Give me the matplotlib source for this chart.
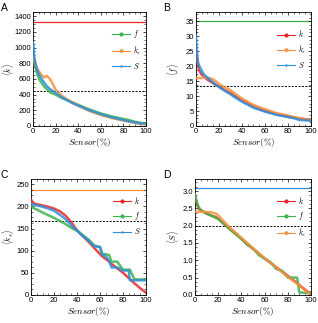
import numpy as np
import matplotlib.pyplot as plt
from matplotlib.ticker import AutoMinorLocator

# colours used in the figure
RED = "#e8262a"
GREEN = "#3cb44b"
ORANGE = "#f7913d"
BLUE = "#2f8fd8"

# Panel A: <k>
xa = [0, 1, 2, 4, 6, 8, 10, 12, 15, 18, 20, 25, 30, 35, 40, 50, 60, 70, 80, 85, 90, 95, 100]
a_f = [900, 820, 750, 650, 580, 540, 500, 470, 430, 410, 400, 360, 330, 300, 270, 210, 160, 120, 90, 75, 55, 40, 35]
a_ks = [880, 850, 780, 720, 680, 640, 620, 640, 600, 520, 460, 390, 340, 300, 260, 190, 140, 100, 70, 55, 40, 25, 20]
a_S = [1060, 900, 800, 700, 640, 590, 550, 510, 470, 440, 420, 370, 330, 290, 260, 200, 150, 110, 75, 60, 45, 35, 30]
a_ref, a_mean = 1330, 440

# Panel B: <f>
xb = [0, 1, 2, 3, 5, 7, 10, 12, 15, 18, 20, 25, 30, 35, 40, 50, 60, 70, 80, 85, 90, 95, 100]
b_k = [26, 22, 20, 18.5, 17.2, 16.5, 15.5, 15, 14.3, 13.6, 13.2, 12, 11, 9.8, 8.6, 6.6, 5, 4, 3.1, 2.8, 2.5, 2.2, 2]
b_ks = [16, 16, 16, 16, 16, 16.5, 16, 16, 15.5, 14.8, 14, 13, 12, 10.5, 9.2, 7, 5.6, 4.3, 3.5, 3, 2.6, 2.3, 2.1]
b_S = [30, 24, 21, 20, 18.5, 17.2, 16.2, 15.5, 14.5, 13.6, 13, 11.8, 10.6, 9.3, 8.1, 6.1, 4.8, 3.7, 3, 2.6, 2, 1.9, 1.8]
b_ref, b_mean = 35, 13.2

# Panel C: <k_s>
xc = [0, 1, 3, 5, 10, 15, 20, 25, 30, 33, 36, 40, 45, 50, 55, 60, 62, 65, 68, 70, 75, 80, 85, 86, 90, 95, 100]
c_k = [215, 210, 206, 205, 202, 199, 195, 189, 179, 170, 160, 146, 133, 120, 106, 92, 87, 81, 75, 70, 60, 50, 38, 36, 26, 15, 5]
c_f = [203, 198, 195, 193, 186, 180, 174, 167, 160, 155, 150, 145, 135, 125, 112, 108, 92, 92, 90, 75, 75, 57, 57, 57, 35, 35, 35]
c_S = [207, 205, 203, 202, 199, 195, 190, 181, 171, 163, 154, 145, 133, 123, 110, 108, 90, 88, 76, 62, 62, 55, 55, 33, 33, 33, 33]
c_ref, c_mean = 237, 168

# Panel D: <S>
xd = [0, 1, 3, 5, 10, 15, 18, 20, 25, 30, 35, 40, 45, 50, 55, 60, 65, 70, 75, 80, 85, 88, 90, 95, 100]
d_k = [2.9, 2.7, 2.5, 2.45, 2.35, 2.28, 2.25, 2.2, 2.05, 1.9, 1.78, 1.62, 1.47, 1.33, 1.2, 1.05, 0.93, 0.8, 0.68, 0.55, 0.42, 0.35, 0.28, 0.15, 0.02]
d_f = [2.9, 2.75, 2.55, 2.45, 2.35, 2.28, 2.22, 2.2, 2.05, 1.9, 1.75, 1.62, 1.45, 1.35, 1.15, 1.05, 0.95, 0.75, 0.7, 0.5, 0.5, 0.5, 0.07, 0.06, 0.05]
d_ks = [2.4, 2.4, 2.4, 2.4, 2.4, 2.38, 2.35, 2.3, 2.12, 1.95, 1.8, 1.65, 1.5, 1.35, 1.2, 1.06, 0.93, 0.8, 0.66, 0.52, 0.4, 0.32, 0.27, 0.13, 0.0]
d_ref, d_mean = 3.08, 2.0

plt.rcParams["font.family"] = ["Liberation Sans", "DejaVu Sans"]
plt.rcParams["mathtext.fontset"] = "cm"
plt.rcParams["font.size"] = 5.5

fig = plt.figure(figsize=(3.18, 3.23), dpi=100)


def panel(rect, letter, letter_x, x, series, ref, ref_color, mean, ylim, yticks, ylabel, ylab_x):
    ax = fig.add_axes(rect)
    ax.axhline(ref, color=ref_color, lw=0.9, zorder=1)
    ax.axhline(mean, color="black", lw=0.7, ls=(0, (2, 1.5)), zorder=1)
    for y, color, marker, label in series:
        ax.plot(x, y, color=color, lw=1.8, alpha=0.85, zorder=3)
        ax.plot([], [], color=color, lw=0.8, marker=marker, ms=2, label=label)
    ax.set_xlim(0, 100)
    ax.set_ylim(*ylim)
    ax.set_xticks([0, 20, 40, 60, 80, 100])
    ax.set_yticks(yticks)
    ax.xaxis.set_minor_locator(AutoMinorLocator(4))
    ax.yaxis.set_minor_locator(AutoMinorLocator(4))
    ax.tick_params(which="both", direction="in", top=True, right=True, pad=1.5, labelsize=5.5)
    ax.tick_params(which="major", length=2.5, width=0.5)
    ax.tick_params(which="minor", length=1.3, width=0.4)
    for s in ax.spines.values():
        s.set_linewidth(0.6)
    ax.set_xlabel(r"$Sensor(\%)$", fontsize=6.5, labelpad=1)
    # y label placed by hand (centre of the text) so it stays inside the figure
    ax.text(ylab_x, 0.5, ylabel, transform=ax.transAxes, rotation=90,
            ha="center", va="center", fontsize=6)
    ax.legend(loc="upper right", bbox_to_anchor=(1.02, 0.92), frameon=False,
              fontsize=5.5, handlelength=2.4, handletextpad=0.4, labelspacing=0.55)
    fig.text(letter_x, rect[1] + rect[3] + 0.003, letter, fontsize=7.5)
    return ax


panel([0.104, 0.61, 0.355, 0.352], "A", 0.003, xa,
      [(a_f, GREEN, "o", r"$f$"), (a_ks, ORANGE, "v", r"$k_s$"), (a_S, BLUE, "+", r"$S$")],
      a_ref, RED, a_mean, (0, 1450), [0, 200, 400, 600, 800, 1000, 1200, 1400],
      r"$\langle k\rangle$", -0.225)

panel([0.616, 0.61, 0.362, 0.352], "B", 0.513, xb,
      [(b_k, RED, "o", r"$k$"), (b_ks, ORANGE, "v", r"$k_s$"), (b_S, BLUE, "+", r"$S$")],
      b_ref, GREEN, b_mean, (0, 38), [0, 5, 10, 15, 20, 25, 30, 35],
      r"$\langle f\rangle$", -0.195)

panel([0.098, 0.087, 0.361, 0.359], "C", 0.003, xc,
      [(c_k, RED, "o", r"$k$"), (c_f, GREEN, "o", r"$f$"), (c_S, BLUE, "+", r"$S$")],
      c_ref, ORANGE, c_mean, (0, 262), [0, 50, 100, 150, 200, 250],
      r"$\langle k_s\rangle$", -0.2)

panel([0.613, 0.087, 0.365, 0.359], "D", 0.513, xd,
      [(d_k, RED, "o", r"$k$"), (d_f, GREEN, "o", r"$f$"), (d_ks, ORANGE, "v", r"$k_s$")],
      d_ref, BLUE, d_mean, (0, 3.35), [0, 0.5, 1, 1.5, 2, 2.5, 3],
      r"$\langle S\rangle$", -0.19)

fig.savefig("out.png", dpi=100)
